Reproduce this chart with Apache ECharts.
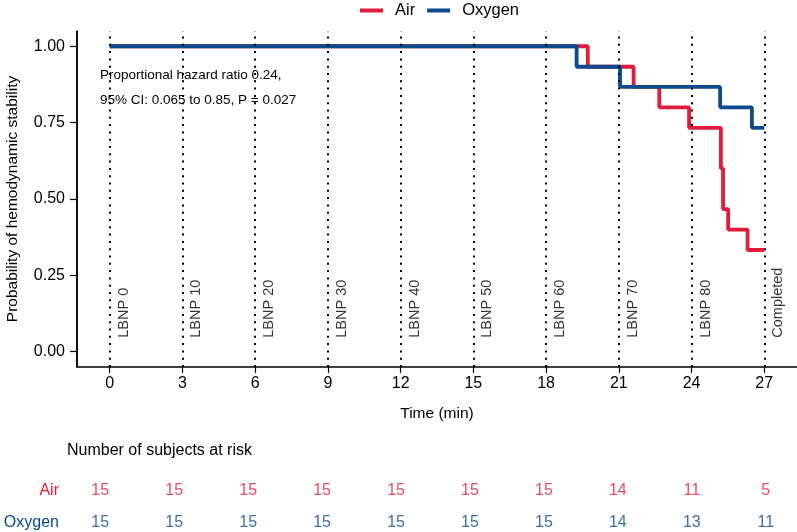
<!DOCTYPE html>
<html>
<head>
<meta charset="utf-8">
<script src="https://cdn.jsdelivr.net/npm/echarts@6/dist/echarts.min.js"></script>
<style>html,body{margin:0;padding:0;background:#fff}#c{width:797px;height:532px}</style>
</head>
<body>
<div id="c"></div>
<script>
// ---- data ----
const timeTicks = [0, 3, 6, 9, 12, 15, 18, 21, 24, 27];
const stageLabels = ['LBNP 0', 'LBNP 10', 'LBNP 20', 'LBNP 30', 'LBNP 40', 'LBNP 50', 'LBNP 60', 'LBNP 70', 'LBNP 80', 'Completed'];
const yTicks = [0, 0.25, 0.5, 0.75, 1];
const airTimes = [0, 19.72, 21.61, 22.67, 23.9, 25.21, 25.3, 25.51, 26.31, 27];
const airSurv  = [1, 0.933, 0.867, 0.8, 0.733, 0.6, 0.467, 0.4, 0.333, 0.333];
const oxyTimes = [0, 19.26, 21.05, 25.18, 26.49, 27];
const oxySurv  = [1, 0.933, 0.867, 0.8, 0.733, 0.733];
const groups = ['Air', 'Oxygen'];
const airAtRisk = [15, 15, 15, 15, 15, 15, 15, 14, 11, 5];
const oxyAtRisk = [15, 15, 15, 15, 15, 15, 15, 14, 13, 11];
const annotation = ['Proportional hazard ratio 0.24,', '95% CI: 0.065 to 0.85, P = 0.027'];

const X_MIN = -1.35, X_MAX = 28.35, Y_MIN = -0.05, Y_MAX = 1.05;
const RED = '#E31B3B', BLUE = '#0B4A8C';
const FONT = 'Liberation Sans, Arial, Helvetica, sans-serif';

const chart = echarts.init(document.getElementById('c'), null, {renderer: 'canvas'});
chart.setOption({
  animation: false,
  textStyle: {fontFamily: FONT},
  legend: {
    data: groups, left: 355, top: -3, icon: 'rect', itemWidth: 23, itemHeight: 4, itemGap: 12,
    textStyle: {fontSize: 16.5, color: '#000', fontFamily: FONT, padding: [0, 0, 0, 7]}
  },
  grid: [
    {left: 77, right: 0, top: 31, bottom: 532 - 367, outerBoundsMode: 'none'},
    {left: 67, width: 732, top: 475, height: 64, outerBoundsMode: 'none'}
  ],
  xAxis: [
    {
      type: 'value', gridIndex: 0, min: X_MIN, max: X_MAX,
      name: 'Time (min)', nameLocation: 'middle', nameGap: 39,
      nameTextStyle: {fontSize: 15.5, color: '#000', fontFamily: FONT},
      axisLine: {show: true, onZero: false, lineStyle: {color: '#000', width: 1.5}},
      axisTick: {show: true, length: 6, customValues: timeTicks, lineStyle: {color: '#000', width: 1.2}},
      axisLabel: {customValues: timeTicks, fontSize: 16, color: '#000', margin: 9, fontFamily: FONT},
      splitLine: {show: false}
    },
    {
      type: 'value', gridIndex: 1, min: X_MIN, max: X_MAX, show: false
    }
  ],
  yAxis: [
    {
      type: 'value', gridIndex: 0, min: Y_MIN, max: Y_MAX,
      name: 'Probability of hemodynamic stability', nameLocation: 'middle', nameGap: 56,
      nameTextStyle: {fontSize: 15.5, color: '#000', fontFamily: FONT},
      axisLine: {show: true, onZero: false, lineStyle: {color: '#000', width: 1.5}},
      axisTick: {show: true, length: 7, customValues: yTicks, lineStyle: {color: '#000', width: 1.2}},
      axisLabel: {customValues: yTicks, fontSize: 16, color: '#000', margin: 12, fontFamily: FONT,
        formatter: v => Number(v).toFixed(2)},
      splitLine: {show: false}
    },
    {
      type: 'category', gridIndex: 1, data: ['Oxygen', 'Air'],
      axisLine: {show: false}, axisTick: {show: false}, splitLine: {show: false},
      axisLabel: {fontSize: 16, margin: 8, fontFamily: FONT,
        color: v => (v === 'Air' ? RED : BLUE)}
    }
  ],
  graphic: [
    {type: 'text', left: 100, top: 68, style: {text: annotation[0], fill: '#000', font: '13.5px ' + FONT}},
    {type: 'text', left: 100, top: 93, style: {text: annotation[1], fill: '#000', font: '13.5px ' + FONT}},
    {type: 'text', left: 67, top: 443, style: {text: 'Number of subjects at risk', fill: '#000', font: '16px ' + FONT}}
  ],
  series: [
    {
      type: 'scatter', xAxisIndex: 0, yAxisIndex: 0, z: 1, silent: true,
      symbolSize: 0,
      data: timeTicks.map(t => [t, 0]),
      label: {
        show: true, rotate: 90, position: [14, -14], align: 'left', verticalAlign: 'middle',
        fontSize: 14.5, color: '#000', fontFamily: FONT,
        formatter: p => stageLabels[p.dataIndex]
      },
      markLine: {
        silent: true, symbol: ['none', 'none'], animation: false,
        label: {show: false},
        lineStyle: {color: '#000', type: [2, 5.3], width: 2},
        data: timeTicks.map(t => ({xAxis: t})).concat([
          {xAxis: X_MIN, lineStyle: {type: 'solid', width: 1.5, color: '#000'}}
        ])
      }
    },
    {
      name: 'Air', type: 'line', step: 'end', xAxisIndex: 0, yAxisIndex: 0, z: 3,
      showSymbol: false, symbol: 'none', color: RED,
      lineStyle: {color: RED, width: 3.8},
      data: airTimes.map((t, i) => [t, airSurv[i]])
    },
    {
      name: 'Oxygen', type: 'line', step: 'end', xAxisIndex: 0, yAxisIndex: 0, z: 4,
      showSymbol: false, symbol: 'none', color: BLUE,
      lineStyle: {color: BLUE, width: 3.8},
      data: oxyTimes.map((t, i) => [t, oxySurv[i]])
    },
    {
      type: 'scatter', xAxisIndex: 1, yAxisIndex: 1, symbolSize: 0, silent: true,
      data: airAtRisk.map((n, i) => [timeTicks[i], 'Air', n]),
      label: {show: true, position: [0, 0], align: 'center', verticalAlign: 'middle',
        fontSize: 16, color: RED, fontFamily: FONT, formatter: p => p.value[2]}
    },
    {
      type: 'scatter', xAxisIndex: 1, yAxisIndex: 1, symbolSize: 0, silent: true,
      data: oxyAtRisk.map((n, i) => [timeTicks[i], 'Oxygen', n]),
      label: {show: true, position: [0, 0], align: 'center', verticalAlign: 'middle',
        fontSize: 16, color: BLUE, fontFamily: FONT, formatter: p => p.value[2]}
    }
  ]
});
</script>
</body>
</html>
